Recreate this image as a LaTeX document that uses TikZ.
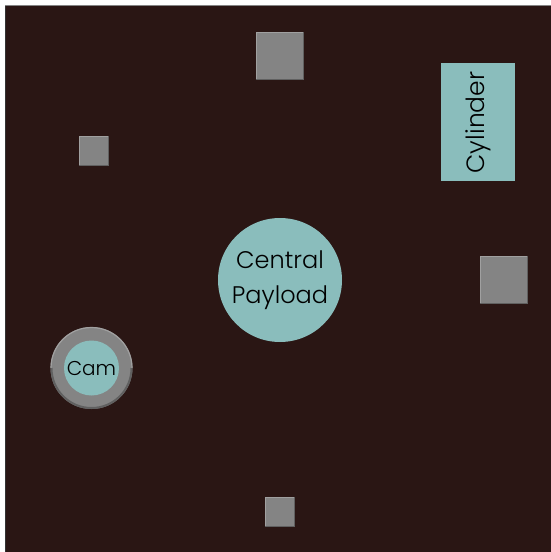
\documentclass[tikz,border=0pt]{standalone}
\usepackage{fontspec}
\setmainfont{Poppins Light}
\definecolor{panel}{HTML}{2A1614}
\definecolor{teal}{HTML}{8ABDBC}
\definecolor{grey}{HTML}{848484}
\definecolor{hi}{HTML}{A0A0A0}
\definecolor{lo}{HTML}{606060}
\tikzset{
  x=1pt,y=-1pt,
  block/.style={fill=grey,draw=none,minimum size=#1,inner sep=0pt,shape=rectangle},
  payload/.style={fill=teal,draw=none,inner sep=0pt,text=black,align=center},
  lit/.style={hi,line width=.7pt},
  shade/.style={lo,line width=.7pt},
}
\begin{document}
\begin{tikzpicture}
\useasboundingbox (0,0) rectangle (551,552);
\fill[white] (0,0) rectangle (551,552);
\fill[panel] (5,6) rectangle (551,552);
\draw[grey,line width=.8pt] (5,5.6) -- (551,5.6);
\draw[black!80,line width=.6pt] (5.3,6) -- (5.3,552);
\node[block=47pt] (topblock) at (280,56) {};
\node[block=29pt] (leftblock) at (94,151) {};
\node[block=47pt] (rightblock) at (504,280) {};
\node[block=29pt] (bottomblock) at (280,512) {};
\draw[lit] (topblock.south west) -- (topblock.north west) -- (topblock.north east);
\draw[lit] (leftblock.south west) -- (leftblock.north west) -- (leftblock.north east);
\draw[lit] (rightblock.south west) -- (rightblock.north west) -- (rightblock.north east);
\draw[lit] (bottomblock.south west) -- (bottomblock.north west) -- (bottomblock.north east);
\draw[shade] (topblock.south west) -- (topblock.south east) -- (topblock.north east);
\draw[shade] (leftblock.south west) -- (leftblock.south east) -- (leftblock.north east);
\draw[shade] (rightblock.south west) -- (rightblock.south east) -- (rightblock.north east);
\draw[shade] (bottomblock.south west) -- (bottomblock.south east) -- (bottomblock.north east);
\node[payload,minimum width=74pt,minimum height=118pt,shape=rectangle] (cylinder) at (478,122) {};
\node[rotate=90,font=\fontsize{25}{29}\selectfont] (cylinderlabel) at (478,122.5) {Cylinder};
\node[payload,shape=circle,minimum size=124pt] (central) at (280,280) {};
\node[font=\fontsize{24}{35}\selectfont,align=center,inner sep=0pt] (centrallabel) at (280,280.5) {Central\\Payload};
\node[shape=circle,fill=grey,minimum size=82pt,inner sep=0pt] (camring) at (91.5,368) {};
\draw[hi,line width=1.2pt] (51,368) arc[start angle=180,end angle=0,radius=40.5pt];
\draw[lo,line width=2pt] (51.5,368) arc[start angle=180,end angle=360,radius=40pt];
\node[payload,shape=circle,minimum size=55pt] (cam) at (91.5,368) {};
\node[font=\fontsize{20}{24}\selectfont,inner sep=0pt] (camlabel) at (91.5,369) {Cam};
\end{tikzpicture}
\end{document}
